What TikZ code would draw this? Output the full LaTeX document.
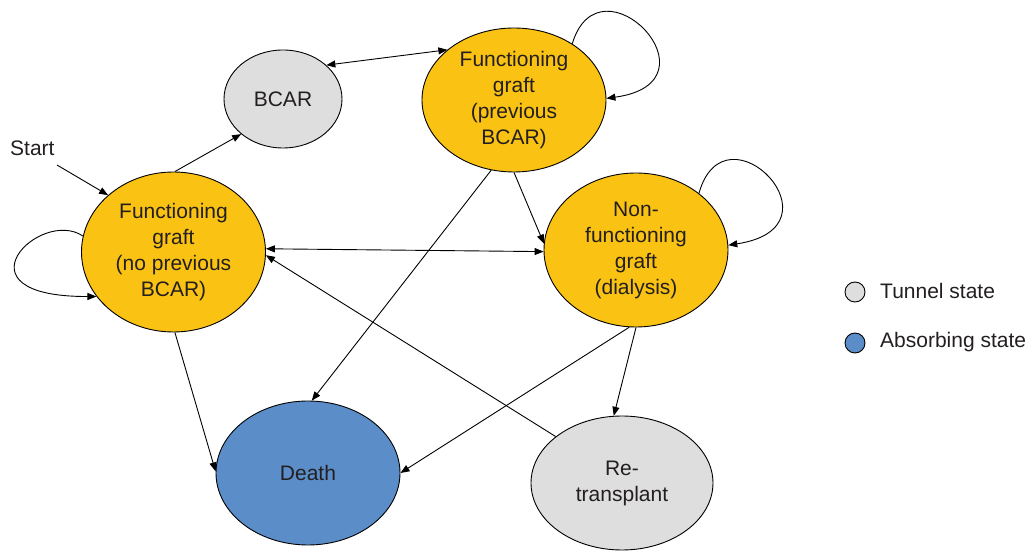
\documentclass[tikz,border=0pt]{standalone}
\usepackage{fontspec}
\setmainfont{Liberation Sans}
\usetikzlibrary{arrows.meta,shapes.geometric}
\definecolor{gyel}{RGB}{250,194,18}
\definecolor{tgray}{RGB}{222,222,222}
\definecolor{ablue}{RGB}{91,141,201}
\definecolor{txt}{RGB}{35,31,32}
\begin{document}
\begin{tikzpicture}[x=1pt,y=1pt,
  state/.style={ellipse,draw=black,line width=0.9pt,inner sep=0pt,align=center,
    text=txt,font=\fontsize{21}{26}\selectfont},
  func/.style={state,fill=gyel},
  tunnel/.style={state,fill=tgray},
  absorb/.style={state,fill=ablue},
  conn/.style={draw=black,line width=0.9pt,-{Triangle[length=9pt,width=7pt]}},
  bconn/.style={draw=black,line width=0.9pt,{Triangle[length=9pt,width=7pt]}-{Triangle[length=9pt,width=7pt]}},
  lab/.style={text=txt,font=\fontsize{21}{26}\selectfont,inner sep=0pt}
]
\useasboundingbox (0,0) rectangle (1029,552);

\node[func,minimum width=184pt,minimum height=160pt] (A) at (173.5,300) {Functioning\\graft\\(no previous\\BCAR)};
\node[tunnel,minimum width=118pt,minimum height=98pt] (R) at (283,453) {BCAR};
\node[func,minimum width=184pt,minimum height=144pt] (B) at (514,452) {Functioning\\graft\\(previous\\BCAR)};
\node[func,minimum width=184pt,minimum height=154pt] (C) at (636,302) {Non-\\functioning\\graft\\(dialysis)};
\node[absorb,minimum width=184pt,minimum height=144pt] (D) at (308,79) {Death};
\node[tunnel,minimum width=182pt,minimum height=134pt] (T) at (622,69) {Re-\\transplant};

\node[lab,anchor=west] (start) at (10,404) {Start};
\coordinate (s0) at (57,387);
\draw[conn] (s0) -- (A.139);

\draw[conn] (A.89) -- (R.220);
\draw[bconn] (R.38) -- (B.143);
\draw[bconn] (A.2) -- (C.181);
\draw[conn] (B.270) -- (C.176);
\draw[conn] (B.252) -- (D.87);
\draw[conn] (T.145) -- (A.-2);
\draw[conn] (C.270) -- (T.97);
\draw[conn] (C.265) -- (D.0);
\draw[conn] (A.271) -- (D.179);

% self loops
\draw[conn] (B.44) .. controls (600,600) and (725,470) .. (B.1);
\draw[conn] (C.42) .. controls (725,452) and (848,325) .. (C.3);
\draw[conn] (A.170) .. controls (40,345) and (-50,255) .. (A.210);

% legend
\node[circle,draw=black,line width=0.9pt,fill=tgray,minimum size=20pt,inner sep=0pt] (l1) at (855,260) {};
\node[lab,anchor=west] (l1t) at (880,261) {Tunnel state};
\node[circle,draw=black,line width=0.9pt,fill=ablue,minimum size=20pt,inner sep=0pt] (l2) at (855,209) {};
\node[lab,anchor=west] (l2t) at (880,210) {Absorbing state};
\end{tikzpicture}
\end{document}
